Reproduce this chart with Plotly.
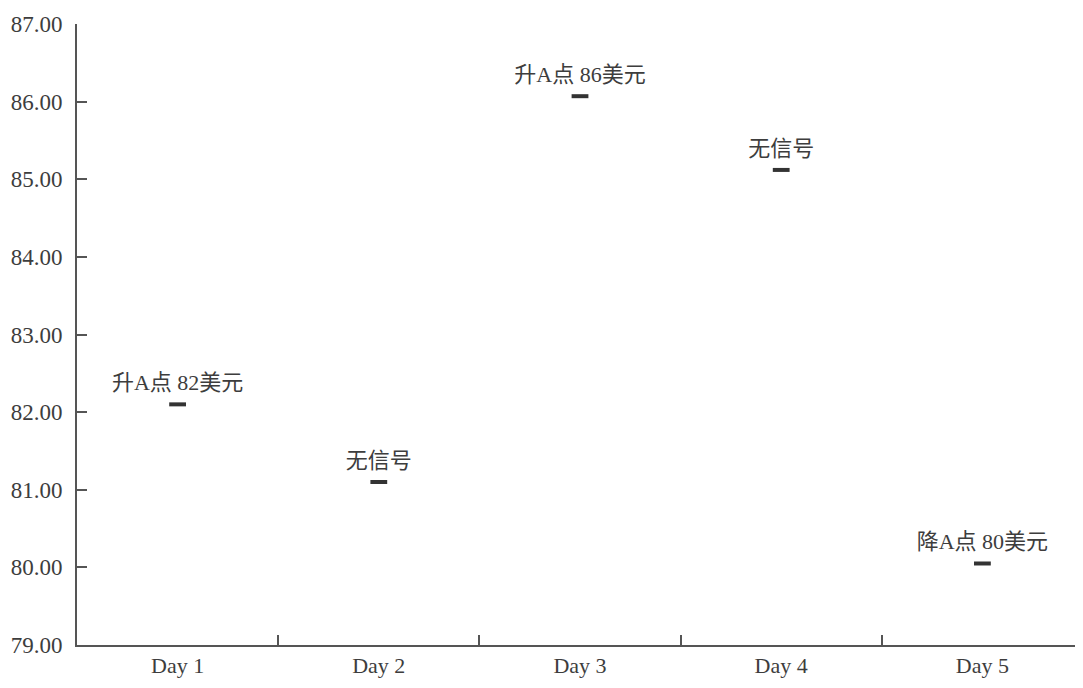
import plotly.graph_objects as go

days = ["Day 1", "Day 2", "Day 3", "Day 4", "Day 5"]
prices = [82.10, 81.10, 86.07, 85.12, 80.05]
signals = ["升A点 82美元", "无信号", "升A点 86美元", "无信号", "降A点 80美元"]
y_ticks = [79, 80, 81, 82, 83, 84, 85, 86, 87]

FONT = "Liberation Serif, Times New Roman, Noto Sans CJK SC, serif"
INK = "#3d3d3d"

fig = go.Figure()
fig.add_trace(go.Scatter(
    x=days, y=prices, mode="markers+text",
    marker=dict(symbol="line-ew", size=12, line=dict(width=4, color="#333333")),
    text=signals, textposition="top center",
    textfont=dict(family=FONT, size=22, color=INK),
    hoverinfo="skip", showlegend=False, cliponaxis=False,
))

fig.update_layout(
    width=1075, height=680,
    margin=dict(l=69, r=0, t=16, b=43),
    plot_bgcolor="white", paper_bgcolor="white",
    font=dict(family=FONT, size=22, color=INK),
)
fig.update_xaxes(
    type="category", range=[-0.5, 4.5], automargin=False,
    showline=True, linecolor="#555555", linewidth=2,
    ticks="inside", tickson="boundaries", ticklen=10, tickwidth=2, tickcolor="#555555",
    showgrid=False, zeroline=False,
    tickfont=dict(family=FONT, size=22, color=INK),
)
fig.update_yaxes(
    range=[79, 87], tickvals=y_ticks, tickformat=".2f", automargin=False,
    showline=True, linecolor="#555555", linewidth=2,
    ticks="inside", ticklen=10, tickwidth=2, tickcolor="#555555",
    ticklabelstandoff=8,
    showgrid=False, zeroline=False,
    tickfont=dict(family=FONT, size=23, color=INK),
)

fig.write_html("out.html")
